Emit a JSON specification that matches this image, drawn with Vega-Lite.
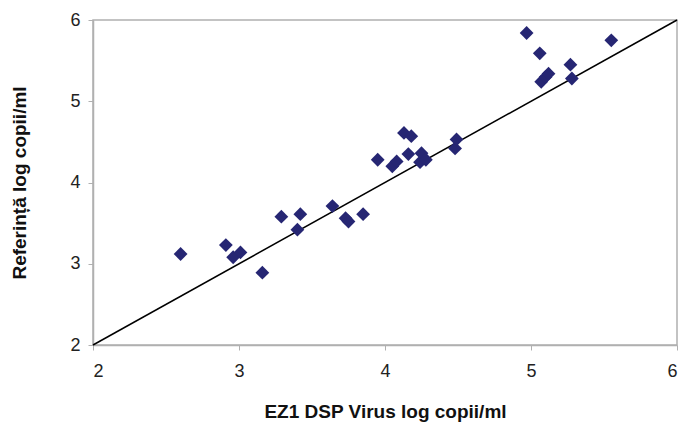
{
  "$schema": "https://vega.github.io/schema/vega-lite/v6.json",
  "width": 584,
  "height": 325,
  "autosize": "none",
  "padding": {"left": 93, "top": 20, "right": 5, "bottom": 82},
  "background": "white",
  "config": {
    "view": {"stroke": "#b0b0b0", "strokeWidth": 1.5},
    "font": "Liberation Sans"
  },
  "layer": [
    {
      "data": {"values": [{"x": 2, "y": 2}, {"x": 6, "y": 6}]},
      "mark": {"type": "line", "color": "black", "strokeWidth": 1.5},
      "encoding": {
        "x": {"field": "x", "type": "quantitative"},
        "y": {"field": "y", "type": "quantitative"}
      }
    },
    {
      "data": {"values": [
        {"ez1": 2.60, "ref": 3.12},
        {"ez1": 2.91, "ref": 3.23},
        {"ez1": 2.96, "ref": 3.08},
        {"ez1": 3.01, "ref": 3.14},
        {"ez1": 3.16, "ref": 2.89},
        {"ez1": 3.29, "ref": 3.58},
        {"ez1": 3.40, "ref": 3.42},
        {"ez1": 3.42, "ref": 3.61},
        {"ez1": 3.64, "ref": 3.71},
        {"ez1": 3.73, "ref": 3.56},
        {"ez1": 3.75, "ref": 3.52},
        {"ez1": 3.85, "ref": 3.61},
        {"ez1": 3.95, "ref": 4.28},
        {"ez1": 4.05, "ref": 4.20},
        {"ez1": 4.08, "ref": 4.26},
        {"ez1": 4.13, "ref": 4.61},
        {"ez1": 4.18, "ref": 4.57},
        {"ez1": 4.16, "ref": 4.35},
        {"ez1": 4.24, "ref": 4.25},
        {"ez1": 4.25, "ref": 4.36},
        {"ez1": 4.28, "ref": 4.28},
        {"ez1": 4.48, "ref": 4.42},
        {"ez1": 4.49, "ref": 4.53},
        {"ez1": 4.97, "ref": 5.84},
        {"ez1": 5.06, "ref": 5.59},
        {"ez1": 5.07, "ref": 5.24},
        {"ez1": 5.10, "ref": 5.30},
        {"ez1": 5.12, "ref": 5.34},
        {"ez1": 5.27, "ref": 5.45},
        {"ez1": 5.28, "ref": 5.28},
        {"ez1": 5.55, "ref": 5.75}
      ]},
      "mark": {"type": "point", "shape": "diamond", "filled": true, "size": 190, "color": "#262673", "opacity": 1},
      "encoding": {
        "x": {
          "field": "ez1", "type": "quantitative",
          "scale": {"domain": [2, 6], "nice": false, "zero": false},
          "axis": {
            "title": "EZ1 DSP Virus log copii/ml",
            "values": [2, 3, 4, 5, 6],
            "format": "d",
            "grid": false,
            "domainColor": "#b0b0b0", "domainWidth": 1.5,
            "tickColor": "#b0b0b0", "tickSize": 5,
            "labelFontSize": 18, "labelColor": "#222", "labelPadding": 12,
            "titleFontSize": 19, "titleFontWeight": "bold", "titleColor": "#111", "titlePadding": 22
          }
        },
        "y": {
          "field": "ref", "type": "quantitative",
          "scale": {"domain": [2, 6], "nice": false, "zero": false},
          "axis": {
            "title": "Referință log copii/ml",
            "values": [2, 3, 4, 5, 6],
            "format": "d",
            "grid": false,
            "domainColor": "#b0b0b0", "domainWidth": 1.5,
            "tickColor": "#b0b0b0", "tickSize": 5,
            "labelFontSize": 18, "labelColor": "#222", "labelPadding": 8,
            "titleFontSize": 19, "titleFontWeight": "bold", "titleColor": "#111", "titlePadding": 40
          }
        }
      }
    }
  ]
}
